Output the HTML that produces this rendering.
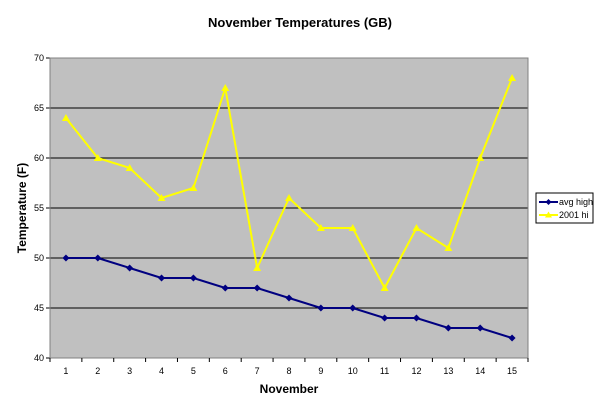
<!DOCTYPE html>
<html><head><meta charset="utf-8"><style>
body{margin:0;background:#fff;width:600px;height:412px;overflow:hidden}
svg{font-family:"Liberation Sans",Arial,sans-serif}
</style></head><body>
<svg width="600" height="412">
<text x="300" y="27" text-anchor="middle" font-size="13" font-weight="bold">November Temperatures (GB)</text>
<rect x="50" y="58" width="478" height="300" fill="#c0c0c0"/>
<g id="grid"></g>
<g id="axes"></g>
<g id="series"></g>
<text x="289" y="393" text-anchor="middle" font-size="12" font-weight="bold">November</text>
<text transform="translate(26,208) rotate(-90)" text-anchor="middle" font-size="12" font-weight="bold">Temperature (F)</text>
<g>
<rect x="536" y="193" width="57" height="30" fill="#fff" stroke="#000" stroke-width="1"/>
<line x1="539" y1="202" x2="558" y2="202" stroke="#000080" stroke-width="2"/>
<path d="M548.5 199 L551.5 202 L548.5 205 L545.5 202Z" fill="#000080"/>
<text x="559" y="205" font-size="9">avg high</text>
<line x1="539" y1="215" x2="558" y2="215" stroke="#ffff00" stroke-width="2"/>
<path d="M548.5 211.5 L552 217.5 L545 217.5Z" fill="#ffff00"/>
<text x="559" y="218" font-size="9">2001 hi</text>
</g>
</svg>
<script>
const categories=[1,2,3,4,5,6,7,8,9,10,11,12,13,14,15];
const avgHigh=[50,50,49,48,48,47,47,46,45,45,44,44,43,43,42];
const hi2001=[64,60,59,56,57,67,49,56,53,53,47,53,51,60,68];
const yTicks=[40,45,50,55,60,65,70];
const NS="http://www.w3.org/2000/svg";
const L=50,R=528,T=58,B=358,ymin=40,ymax=70;
const xs=i=>L+(R-L)/categories.length*(i+0.5);
const ys=v=>B-(v-ymin)/(ymax-ymin)*(B-T);
function mk(p,tag,a){const e=document.createElementNS(NS,tag);for(const k in a)e.setAttribute(k,a[k]);p.appendChild(e);return e;}
const grid=document.getElementById('grid'),axes=document.getElementById('axes'),ser=document.getElementById('series');
yTicks.forEach(v=>{
 if(v>ymin){const g=mk(grid,'line',{x1:L,x2:R,y1:ys(v),y2:ys(v),stroke:'#000','stroke-width':1});
 
 }
 mk(axes,'line',{x1:L-4,x2:L,y1:ys(v),y2:ys(v),stroke:'#000'});
 const t=mk(axes,'text',{x:L-6,y:ys(v)+3,'text-anchor':'end','font-size':9});t.textContent=v;
 
 
});
mk(axes,'line',{x1:L,x2:L,y1:T,y2:B,stroke:'#000'});
mk(axes,'line',{x1:L,x2:R,y1:B,y2:B,stroke:'#000'});
mk(axes,'rect',{x:L,y:T,width:R-L,height:B-T,fill:'none',stroke:'#808080'});
categories.forEach((c,i)=>{
 const x0=L+(R-L)/categories.length*i;
 mk(axes,'line',{x1:x0,x2:x0,y1:B,y2:B+4,stroke:'#000'});
 const t=mk(axes,'text',{x:xs(i),y:B+16,'text-anchor':'middle','font-size':9});t.textContent=c;
 
 
});
mk(axes,'line',{x1:R,x2:R,y1:B,y2:B+4,stroke:'#000'});
function drawSeries(vals,color,name,marker){
 const pl=mk(ser,'polyline',{points:vals.map((v,i)=>xs(i)+','+ys(v)).join(' '),fill:'none',stroke:color,'stroke-width':2});
 
 
 vals.forEach((v,i)=>{const x=xs(i),y=ys(v);
  const d=marker==='d'?`M${x} ${y-3.5}L${x+3.5} ${y}L${x} ${y+3.5}L${x-3.5} ${y}Z`:`M${x} ${y-4}L${x+4} ${y+3}L${x-4} ${y+3}Z`;
  const p=mk(ser,'path',{d:d,fill:color});
  
  
 });
}
drawSeries(avgHigh,'#000080','avg-high','d');
drawSeries(hi2001,'#ffff00','hi-2001','t');
</script>
</body></html>
